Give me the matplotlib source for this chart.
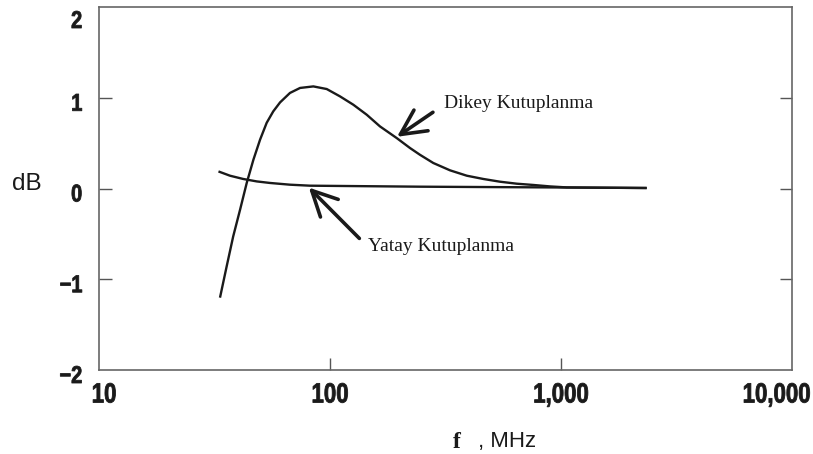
import matplotlib
matplotlib.use("Agg")
import matplotlib.pyplot as plt
from matplotlib import patheffects
from matplotlib.transforms import Affine2D, ScaledTranslation

# Frequency response, dB versus frequency (MHz)
dikey_f = [33.4, 35.7, 38.1, 40.8, 43.6, 46.6, 49.8, 53.2, 56.8, 60.8, 67.1, 74.2,
           84.7, 96.8, 110.5, 126.2, 144.2, 164.6, 194.4, 222, 245, 280, 331, 391,
           461, 544, 643, 759, 896, 1059, 2350]
dikey_db = [-1.203, -0.858, -0.528, -0.234, 0.061, 0.317, 0.538, 0.724, 0.850, 0.949,
            1.053, 1.108, 1.125, 1.096, 1.015, 0.923, 0.813, 0.684, 0.556, 0.446,
            0.372, 0.281, 0.200, 0.141, 0.105, 0.075, 0.053, 0.039, 0.023, 0.012, 0.005]

yatay_f = [32.9, 36.9, 42.1, 48.2, 55.0, 67.1, 81.9, 245, 2350]
yatay_db = [0.188, 0.141, 0.105, 0.078, 0.061, 0.042, 0.031, 0.020, 0.006]

x_ticks = [10, 100, 1000, 10000]
x_labels = ["10", "100", "1,000", "10,000"]
y_ticks = [-2, -1, 0, 1, 2]
y_labels = ["\u22122", "\u22121", "0", "1", "2"]

SANS = ["Liberation Sans", "DejaVu Sans"]
SERIF = ["Liberation Serif", "DejaVu Serif"]
INK = "#1a1a1a"


class Condense(patheffects.AbstractPathEffect):
    """Squeeze glyphs horizontally (and thicken them a little) for a bold condensed face."""

    def __init__(self, sx=0.8, anchor="center", stroke=0.6):
        super().__init__()
        self.sx = sx
        self.anchor = anchor
        self.stroke = stroke

    def draw_path(self, renderer, gc, tpath, affine, rgbFace=None):
        ext = tpath.get_extents()
        if self.anchor == "right":
            cx = ext.x1
        elif self.anchor == "left":
            cx = ext.x0
        else:
            cx = 0.5 * (ext.x0 + ext.x1)
        t = Affine2D().translate(-cx, 0).scale(self.sx, 1).translate(cx, 0) + affine
        gc2 = renderer.new_gc()
        gc2.copy_properties(gc)
        gc2.set_linewidth(self.stroke)
        gc2.set_foreground(rgbFace)
        gc2.set_joinstyle("round")
        renderer.draw_path(gc2, tpath, t, rgbFace)
        gc2.restore()


fig = plt.figure(figsize=(8.13, 4.54), dpi=100)
ax = fig.add_axes([99 / 813, 84 / 454, 693 / 813, 363 / 454])

ax.plot(dikey_f, dikey_db, color=INK, lw=1.7, solid_capstyle="butt")
ax.plot(yatay_f, yatay_db, color=INK, lw=1.7, solid_capstyle="butt")

ax.set_xscale("log")
ax.set_xlim(10, 10000)
ax.set_ylim(-2, 2)
ax.minorticks_off()

ax.set_xticks(x_ticks)
ax.set_xticklabels(x_labels, family=SANS, fontweight="bold", fontsize=20, color=INK)
ax.set_yticks(y_ticks)
ax.set_yticklabels(y_labels, family=SANS, fontweight="bold", fontsize=17.5, color=INK)

ax.tick_params(axis="both", direction="in", length=9, width=1.0, color="#555")
ax.tick_params(axis="y", right=True, pad=12)
ax.tick_params(axis="x", pad=9)

# no tick marks at the frame corners
for t in ax.xaxis.get_major_ticks():
    if t.get_loc() in (10, 10000):
        t.tick1line.set_visible(False)
for t in ax.yaxis.get_major_ticks():
    if t.get_loc() in (-2, 2):
        t.tick1line.set_visible(False)
        t.tick2line.set_visible(False)

# condensed tick labels, edge labels kept inside the figure
px = 1 / 100
for lab in ax.get_xticklabels():
    if lab.get_text() == "10,000":
        lab.set_horizontalalignment("right")
        lab.set_path_effects([Condense(0.8, "right")])
        lab.set_transform(lab.get_transform() + ScaledTranslation(19 * px, 0, fig.dpi_scale_trans))
    else:
        lab.set_path_effects([Condense(0.8, "center")])
        if lab.get_text() == "10":
            lab.set_transform(lab.get_transform() + ScaledTranslation(5 * px, 0, fig.dpi_scale_trans))
for lab in ax.get_yticklabels():
    lab.set_path_effects([Condense(0.82, "right")])
    dy = -12 if lab.get_text() == "2" else -4
    lab.set_transform(lab.get_transform() + ScaledTranslation(0, dy * px, fig.dpi_scale_trans))

for s in ax.spines.values():
    s.set_color("#666")
    s.set_linewidth(1.2)

arrow = dict(arrowstyle="->,head_length=0.9,head_width=0.45", lw=2.6, color=INK,
             shrinkA=0, shrinkB=0, mutation_scale=20)
ax.annotate("", xy=(195, 0.57), xytext=(279, 0.84), arrowprops=arrow)
ax.annotate("", xy=(81, 0.01), xytext=(134, -0.55), arrowprops=arrow)

ax.text(312, 0.94, "Dikey Kutuplanma", family=SERIF, fontsize=14, color=INK, va="center", ha="left")
ax.text(146, -0.64, "Yatay Kutuplanma", family=SERIF, fontsize=14, color=INK, va="center", ha="left")

fig.text(27 / 813, 1 - 184 / 454, "dB", family=SANS, fontsize=17.5, color=INK, ha="center", va="center")
fig.text(457 / 813, 1 - 442 / 454, "f", family=SERIF, fontweight="bold", fontsize=17, color=INK, ha="center", va="center")
fig.text(507 / 813, 1 - 442 / 454, ", MHz", family=SANS, fontsize=16, color=INK, ha="center", va="center")

fig.savefig("out.png", dpi=100, facecolor="white")
